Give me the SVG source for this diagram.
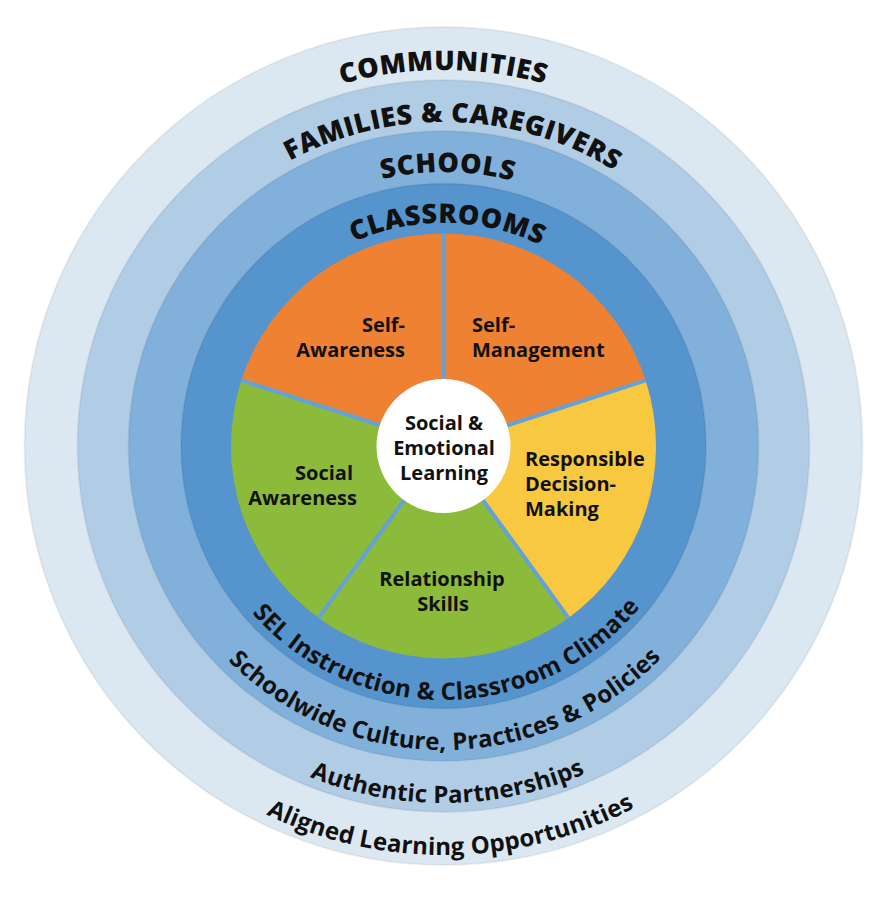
<svg xmlns="http://www.w3.org/2000/svg" width="888" height="900" viewBox="0 0 888 900">
<style>
.ring{stroke:#000;stroke-opacity:0.06;stroke-width:2}
.cap{font-family:"Open Sans","DejaVu Sans",sans-serif;font-weight:800;font-size:27px;fill:#111;letter-spacing:0.6px}
.arc{font-family:"Open Sans","DejaVu Sans",sans-serif;font-weight:700;font-size:24px;fill:#111;letter-spacing:0.2px}
.lbl{font-family:"Open Sans","DejaVu Sans",sans-serif;font-weight:700;font-size:20px;fill:#111}
.div{stroke:#63a1d7;stroke-width:4}
</style>
<defs>
<path id="t1" d="M 67.5 446 A 376 376 0 0 1 819.5 446"/>
<path id="t2" d="M 119.5 446 A 324 324 0 0 1 767.5 446"/>
<path id="t3" d="M 169.5 446 A 274 274 0 0 1 717.5 446"/>
<path id="t4" d="M 220.5 446 A 223 223 0 0 1 666.5 446"/>
<path id="b1" d="M 189.5 446 A 254 254 0 0 0 697.5 446"/>
<path id="b2" d="M 139.5 446 A 304 304 0 0 0 747.5 446"/>
<path id="b3" d="M 86.5 446 A 357 357 0 0 0 800.5 446"/>
<path id="b4" d="M 34.5 446 A 409 409 0 0 0 852.5 446"/>
</defs>
<rect width="888" height="900" fill="#ffffff"/>
<g id="communities">
<circle class="ring" cx="443.5" cy="446" r="419" fill="#dbe8f2"/>
<text class="cap"><textPath href="#t1" startOffset="50%" text-anchor="middle">COMMUNITIES</textPath></text>
<text class="arc"><textPath href="#b4" startOffset="50.6%" text-anchor="middle">Aligned Learning Opportunities</textPath></text>
</g>
<g id="families">
<circle class="ring" cx="443.5" cy="446" r="366" fill="#b1cde6"/>
<text class="cap"><textPath href="#t2" startOffset="51%" text-anchor="middle">FAMILIES &amp; CAREGIVERS</textPath></text>
<text class="arc"><textPath href="#b3" startOffset="50.4%" text-anchor="middle">Authentic Partnerships</textPath></text>
</g>
<g id="schools">
<circle class="ring" cx="443.5" cy="446" r="315" fill="#81b1da"/>
<text class="cap"><textPath href="#t3" startOffset="50.5%" text-anchor="middle">SCHOOLS</textPath></text>
<text class="arc"><textPath href="#b2" startOffset="50.2%" text-anchor="middle">Schoolwide Culture, Practices &amp; Policies</textPath></text>
</g>
<g id="classrooms">
<circle class="ring" cx="443.5" cy="446" r="262.5" fill="#5594cd"/>
<text class="cap"><textPath href="#t4" startOffset="50.6%" text-anchor="middle">CLASSROOMS</textPath></text>
<text class="arc"><textPath href="#b1" startOffset="50.5%" text-anchor="middle">SEL Instruction &amp; Classroom Climate</textPath></text>
</g>
<g id="self-management">
<path d="M 443.5 446 L 443.5 233.5 A 212.5 212.5 0 0 1 645.6 380.3 Z" fill="#ee8232"/>
<text class="lbl" x="472" y="332">Self-</text>
<text class="lbl" x="472" y="357">Management</text>
</g>
<g id="responsible-decision-making">
<path d="M 443.5 446 L 645.6 380.3 A 212.5 212.5 0 0 1 568.4 617.9 Z" fill="#f8c840"/>
<text class="lbl" x="525" y="466">Responsible</text>
<text class="lbl" x="525" y="491">Decision-</text>
<text class="lbl" x="525" y="516">Making</text>
</g>
<g id="relationship-skills">
<path d="M 443.5 446 L 568.4 617.9 A 212.5 212.5 0 0 1 318.6 617.9 Z" fill="#8cbb3c"/>
<text class="lbl" x="442" y="586" text-anchor="middle">Relationship</text>
<text class="lbl" x="443" y="611" text-anchor="middle">Skills</text>
</g>
<g id="social-awareness">
<path d="M 443.5 446 L 318.6 617.9 A 212.5 212.5 0 0 1 241.4 380.3 Z" fill="#8cbb3c"/>
<text class="lbl" x="353" y="480" text-anchor="end">Social</text>
<text class="lbl" x="357" y="505" text-anchor="end">Awareness</text>
</g>
<g id="self-awareness">
<path d="M 443.5 446 L 241.4 380.3 A 212.5 212.5 0 0 1 443.5 233.5 Z" fill="#ee8232"/>
<text class="lbl" x="405" y="332" text-anchor="end">Self-</text>
<text class="lbl" x="405" y="357" text-anchor="end">Awareness</text>
</g>
<g id="connectors">
<line class="div" x1="443.5" y1="446" x2="443.5" y2="233.5"/>
<line class="div" x1="443.5" y1="446" x2="645.6" y2="380.3"/>
<line class="div" x1="443.5" y1="446" x2="568.4" y2="617.9"/>
<line class="div" x1="443.5" y1="446" x2="318.6" y2="617.9"/>
<line class="div" x1="443.5" y1="446" x2="241.4" y2="380.3"/>
</g>
<g id="sel-center">
<circle cx="443.5" cy="446" r="67" fill="#ffffff"/>
<text class="lbl" x="444" y="430" text-anchor="middle">Social &amp;</text>
<text class="lbl" x="444" y="455" text-anchor="middle">Emotional</text>
<text class="lbl" x="444" y="480" text-anchor="middle">Learning</text>
</g>
</svg>
